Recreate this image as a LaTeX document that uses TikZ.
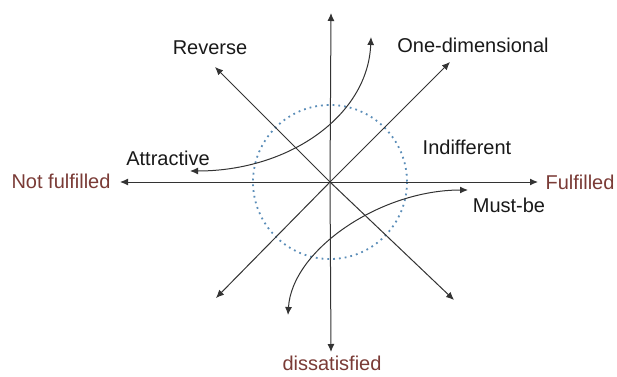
\documentclass[tikz,border=0pt]{standalone}
\usepackage{fontspec}
\setmainfont{Liberation Sans}
\usetikzlibrary{arrows.meta}
\definecolor{labelred}{HTML}{7A3B36}
\definecolor{linegray}{HTML}{333333}
\definecolor{ringblue}{HTML}{5B8DB8}
\begin{document}
\begin{tikzpicture}[x=0.5pt, y=-0.5pt, every node/.style={font=\fontsize{10}{12}\selectfont},
  axis/.style={draw=linegray,line width=0.5pt,-{Latex[length=4pt,width=3.5pt]}},
  quality/.style={text=black!90},
  pole/.style={text=labelred}]
  \useasboundingbox (0,0) rectangle (617,376);
  % centre and arrow tips
  \coordinate (o) at (330,182);
  \coordinate (left) at (120,182);
  \coordinate (right) at (538,182);
  \coordinate (top) at (331,13);
  \coordinate (bottom) at (331,352);
  \coordinate (nw) at (215,67);
  \coordinate (ne) at (450,62);
  \coordinate (sw) at (216,298);
  \coordinate (se) at (454,300);
  % dotted ring
  \draw[ringblue,line width=0.9pt,dotted] (o) circle (77);
  % axes
  \draw[axis] (o) -- (left);
  \draw[axis] (o) -- (right);
  \draw[axis] (o) -- (top);
  \draw[axis] (o) -- (bottom);
  \draw[axis] (o) -- (nw);
  \draw[axis] (o) -- (ne);
  \draw[axis] (o) -- (sw);
  \draw[axis] (o) -- (se);
  % curved arrows
  \coordinate (a1) at (190,171);
  \coordinate (a2) at (371,37);
  \coordinate (m1) at (288,315);
  \coordinate (m2) at (468,190);
  \draw[axis,{Latex[length=4pt,width=3.5pt]}-{Latex[length=4pt,width=3.5pt]}] (a1) .. controls (290,171) and (368,115) .. (a2);
  \draw[axis,{Latex[length=4pt,width=3.5pt]}-{Latex[length=4pt,width=3.5pt]}] (m1) .. controls (292,250) and (380,190) .. (m2);
  % labels
  \node[quality] (reverse) at (210,48) {Reverse};
  \node[quality] (onedim) at (473,45) {One-dimensional};
  \node[quality] (indiff) at (467,147) {Indifferent};
  \node[quality] (attract) at (168,158) {Attractive};
  \node[quality] (mustbe) at (509,205) {Must-be};
  \node[pole] (notful) at (61,181) {Not fulfilled};
  \node[pole] (ful) at (580,182) {Fulfilled};
  \node[pole] (dissat) at (332,363) {dissatisfied};
\end{tikzpicture}
\end{document}
